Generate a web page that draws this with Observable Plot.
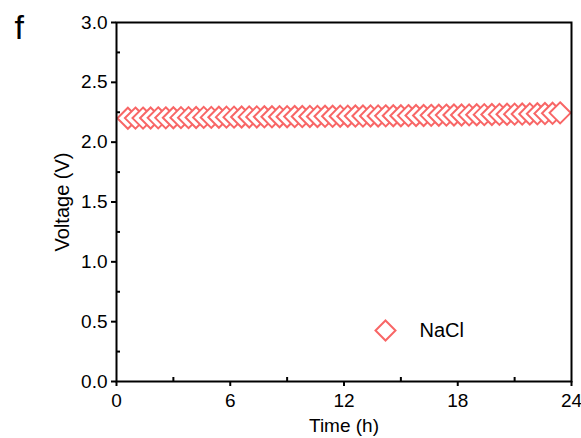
<!DOCTYPE html>
<html>
<head>
<meta charset="utf-8">
<script src="https://cdn.jsdelivr.net/npm/d3@7"></script>
<script src="https://cdn.jsdelivr.net/npm/@observablehq/plot@0.6"></script>
<style>
  html, body { margin: 0; padding: 0; background: #fff; }
  svg { display: block; }
</style>
</head>
<body>
<div id="chart"></div>
<script>
const panelLabel = "f";
const seriesName = "NaCl";
const xLabel = "Time (h)";
const yLabel = "Voltage (V)";
const xTicks = [0, 6, 12, 18, 24];
const xMinorTicks = [3, 9, 15, 21];
const yTicks = [0, 0.5, 1.0, 1.5, 2.0, 2.5, 3.0];
const yMinorTicks = [0.25, 0.75, 1.25, 1.75, 2.25, 2.75];

const timeH = [0.6,1.0,1.4,1.8,2.2,2.6,3.0,3.4,3.8,4.2,4.6,5.0,5.4,5.8,6.2,6.6,7.0,7.4,7.8,8.2,
  8.6,9.0,9.4,9.8,10.2,10.6,11.0,11.4,11.8,12.2,12.6,13.0,13.4,13.8,14.2,14.6,15.0,15.4,15.8,16.2,
  16.6,17.0,17.4,17.8,18.2,18.6,19.0,19.4,19.8,20.2,20.6,21.0,21.4,21.8,22.2,22.6,23.0,23.4];
const voltage = [2.200,2.201,2.201,2.202,2.203,2.203,2.204,2.205,2.205,2.206,
  2.207,2.207,2.208,2.209,2.209,2.210,2.211,2.211,2.212,2.212,
  2.213,2.213,2.214,2.214,2.215,2.215,2.216,2.216,2.217,2.217,
  2.218,2.218,2.219,2.219,2.220,2.221,2.221,2.222,2.223,2.223,
  2.224,2.225,2.226,2.227,2.227,2.228,2.229,2.230,2.231,2.232,
  2.233,2.234,2.235,2.236,2.237,2.239,2.241,2.245];

const data = timeH.map((t, i) => ({t, v: voltage[i]}));
const red = "#F86666";
const noLabel = () => "";

const chart = Plot.plot({
  width: 581,
  height: 438,
  marginLeft: 116,
  marginRight: 10,
  marginTop: 22,
  marginBottom: 57,
  style: {fontFamily: "'Liberation Sans', Arial, sans-serif", fontSize: "19px", color: "#000", background: "#fff"},
  x: {domain: [0, 24]},
  y: {domain: [0, 3]},
  marks: [
    Plot.dot(data, {x: "t", y: "v", symbol: "diamond2", r: 9.5, stroke: red, strokeWidth: 2, fill: "#fff"}),
    Plot.frame({stroke: "#000", strokeWidth: 2}),
    Plot.axisX({ticks: xTicks, tickSize: 5, tickPadding: 7, tickFormat: d => String(d), strokeWidth: 2, label: null, fontSize: 19}),
    Plot.axisX({ticks: xMinorTicks, tickSize: 4, dy: -4, tickFormat: noLabel, strokeWidth: 2, label: null}),
    Plot.axisY({ticks: yTicks, tickSize: 5, tickPadding: 4, tickFormat: d3.format(".1f"), strokeWidth: 2, label: null, fontSize: 19}),
    Plot.axisY({ticks: yMinorTicks, tickSize: 4, dx: 4, tickFormat: noLabel, strokeWidth: 2, label: null}),
    Plot.text([yLabel], {frameAnchor: "left", dx: -54, rotate: -90, fontSize: 20, textAnchor: "middle", lineAnchor: "middle"}),
    Plot.text([xLabel], {frameAnchor: "bottom", dy: 44, fontSize: 19, textAnchor: "middle", lineAnchor: "middle"}),
    Plot.text([panelLabel], {frameAnchor: "top-left", dx: -102, dy: 6, fontSize: 34, lineAnchor: "middle", textAnchor: "start"}),
    Plot.dot([seriesName], {frameAnchor: "bottom-left", dx: 269, dy: -51, symbol: "diamond2", r: 9, stroke: red, strokeWidth: 2, fill: "#fff"}),
    Plot.text([seriesName], {frameAnchor: "bottom-left", dx: 303, dy: -51, fontSize: 20, textAnchor: "start", lineAnchor: "middle"})
  ]
});
document.getElementById("chart").appendChild(chart);
</script>
</body>
</html>
